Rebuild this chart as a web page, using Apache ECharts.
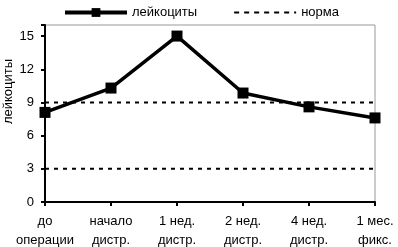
<!DOCTYPE html>
<html>
<head>
<meta charset="utf-8">
<script src="https://cdn.jsdelivr.net/npm/echarts@6/dist/echarts.min.js"></script>
<style>
  html, body { margin: 0; padding: 0; background: #fff; }
  #chart { width: 398px; height: 247px; }
</style>
</head>
<body>
<div id="chart"></div>
<script>
// данные
const categories = ['до\nоперации', 'начало\nдистр.', '1 нед.\nдистр.', '2 нед.\nдистр.', '4 нед.\nдистр.', '1 мес.\nфикс.'];
const leukocytes = [8.1, 10.3, 15.0, 9.85, 8.6, 7.6];
const normUpper = [9, 9, 9, 9, 9, 9];
const normLower = [3, 3, 3, 3, 3, 3];

const font = 'Liberation Sans, Arial, sans-serif';
const chart = echarts.init(document.getElementById('chart'));

const normStyle = { color: '#000', width: 2, type: [4, 5] };

chart.setOption({
  animation: false,
  textStyle: { fontFamily: font, color: '#000' },
  legend: {
    top: 1,
    left: 58,
    itemGap: 36,
    itemWidth: 62,
    itemHeight: 11,
    textStyle: { fontFamily: font, fontSize: 13, color: '#000' },
    data: [
      { name: 'лейкоциты', lineStyle: { width: 4 } },
      { name: 'норма', itemStyle: { opacity: 0 }, lineStyle: { width: 2, type: [5, 5] } }
    ]
  },
  grid: {
    left: 45, right: 23, top: 25, bottom: 45,
    outerBoundsMode: 'none',
    containLabel: false,
    show: true, borderColor: '#999', borderWidth: 1
  },
  xAxis: {
    type: 'category',
    boundaryGap: false,
    data: categories,
    axisLine: { lineStyle: { color: '#000', width: 2 } },
    axisTick: { lineStyle: { color: '#000', width: 2 }, length: 4 },
    axisLabel: { color: '#000', fontSize: 13, fontFamily: font, lineHeight: 19, margin: 10, interval: 0 }
  },
  yAxis: {
    type: 'value',
    min: 0, max: 16, interval: 3,
    name: 'лейкоциты',
    nameLocation: 'middle',
    nameRotate: 90,
    nameGap: 30,
    nameMoveOverlap: false,
    nameTextStyle: { fontSize: 13, fontFamily: font, color: '#000', padding: [0, 0, 0, 44] },
    splitLine: { show: false },
    axisLine: { show: true, lineStyle: { color: '#000', width: 2 } },
    axisTick: { show: true, lineStyle: { color: '#000', width: 2 }, length: 4 },
    axisLabel: { color: '#000', fontSize: 13, fontFamily: font, margin: 11,
      formatter: v => (v % 3 === 0 ? v : '') }
  },
  series: [
    {
      name: 'норма', type: 'line', data: normUpper,
      symbol: 'none', lineStyle: normStyle, itemStyle: { color: '#000' }, z: 1
    },
    {
      name: 'норма', type: 'line', data: normLower,
      symbol: 'none', lineStyle: normStyle, itemStyle: { color: '#000' }, z: 1
    },
    {
      name: 'лейкоциты', type: 'line', data: leukocytes,
      symbol: 'rect', symbolSize: 11,
      lineStyle: { color: '#000', width: 3.5 },
      itemStyle: { color: '#000' }, z: 3
    }
  ]
});
</script>
</body>
</html>
